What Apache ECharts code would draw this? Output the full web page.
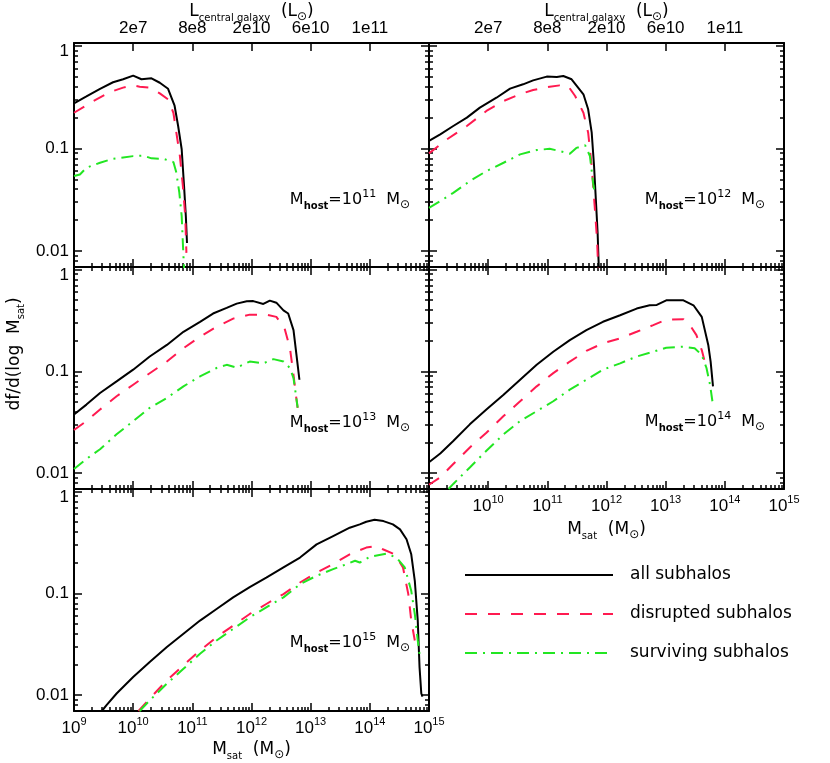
<!DOCTYPE html>
<html><head><meta charset="utf-8">
<script src="https://cdn.jsdelivr.net/npm/echarts@6/dist/echarts.min.js"></script>
<style>html,body{margin:0;padding:0;background:#fff}#c{width:830px;height:763px}</style>
</head><body><div id="c"></div><script>
// ---------- data (x = log10 M_sat [M_sun], y = df/d(log M_sat)) ----------
const hostExponents = [11, 12, 13, 14, 15];
const seriesNames = ['all subhalos', 'disrupted subhalos', 'surviving subhalos'];
const xRange = [9, 15];
const yRange = [0.007, 1.06];
const xMajorTicks = [9, 10, 11, 12, 13, 14, 15];
const topTickPos = [10, 11, 12, 13, 14];
const topTickLabels = ['2e7', '8e8', '2e10', '6e10', '1e11'];
const yMajorTicks = [0.01, 0.1, 1];
const yTickLabels = ['0.01', '0.1', '1'];

const h11_all = [[9.0,0.274],[9.21,0.32],[9.44,0.38],[9.66,0.44],[9.83,0.47],[10.0,0.51],[10.14,0.47],[10.31,0.48],[10.45,0.435],[10.59,0.38],[10.7,0.26],[10.76,0.165],[10.82,0.098],[10.86,0.043],[10.89,0.022],[10.91,0.012]];
const h11_dis = [[9.0,0.222],[9.33,0.289],[9.61,0.353],[9.83,0.39],[10.0,0.41],[10.11,0.398],[10.28,0.39],[10.45,0.343],[10.59,0.30],[10.68,0.222],[10.73,0.142],[10.79,0.084],[10.84,0.043],[10.88,0.022],[10.90,0.0096]];
const h11_sur = [[9.0,0.0537],[9.1,0.0557],[9.21,0.0647],[9.44,0.0725],[9.66,0.0792],[10.0,0.084],[10.17,0.085],[10.31,0.0799],[10.51,0.079],[10.68,0.0735],[10.73,0.058],[10.78,0.037],[10.82,0.022],[10.85,0.0089],[10.86,0.0068]];

const h12_all = [[9.0,0.118],[9.19,0.137],[9.41,0.165],[9.64,0.199],[9.86,0.249],[10.14,0.311],[10.37,0.381],[10.59,0.42],[10.76,0.459],[10.99,0.499],[11.16,0.495],[11.27,0.506],[11.41,0.47],[11.61,0.336],[11.69,0.24],[11.75,0.142],[11.79,0.067],[11.82,0.0318],[11.85,0.015],[11.87,0.0068]];
const h12_dis = [[9.0,0.0893],[9.30,0.122],[9.64,0.165],[9.97,0.231],[10.26,0.289],[10.54,0.336],[10.76,0.37],[11.04,0.398],[11.21,0.41],[11.35,0.405],[11.47,0.323],[11.61,0.222],[11.69,0.142],[11.75,0.067],[11.80,0.0274],[11.84,0.013],[11.86,0.0068]];
const h12_sur = [[9.0,0.0264],[9.19,0.0306],[9.41,0.0369],[9.69,0.048],[9.97,0.06],[10.26,0.0724],[10.54,0.0873],[10.82,0.0962],[11.04,0.099],[11.21,0.094],[11.38,0.0886],[11.49,0.101],[11.64,0.107],[11.72,0.084],[11.78,0.043],[11.80,0.037]];

const h13_all = [[9.0,0.0378],[9.21,0.0472],[9.44,0.0614],[9.72,0.0798],[10.0,0.104],[10.28,0.14],[10.57,0.182],[10.85,0.245],[11.13,0.307],[11.35,0.37],[11.58,0.42],[11.75,0.463],[11.92,0.488],[12.03,0.49],[12.20,0.46],[12.31,0.496],[12.42,0.473],[12.54,0.398],[12.62,0.37],[12.71,0.254],[12.76,0.145],[12.81,0.0828]];
const h13_dis = [[9.0,0.0266],[9.21,0.0325],[9.44,0.0422],[9.72,0.057],[10.0,0.074],[10.28,0.096],[10.57,0.125],[10.85,0.169],[11.13,0.219],[11.41,0.274],[11.69,0.33],[11.97,0.361],[12.25,0.361],[12.42,0.343],[12.56,0.264],[12.65,0.169],[12.71,0.0926],[12.75,0.059],[12.78,0.0439]];
const h13_sur = [[9.0,0.011],[9.21,0.0138],[9.44,0.0172],[9.72,0.0241],[10.0,0.0325],[10.28,0.0439],[10.57,0.0549],[10.85,0.0713],[11.13,0.0893],[11.41,0.108],[11.58,0.116],[11.75,0.109],[11.97,0.125],[12.20,0.12],[12.37,0.132],[12.54,0.125],[12.65,0.108],[12.71,0.086],[12.75,0.059],[12.78,0.044]];

const h14_all = [[9.0,0.0128],[9.19,0.0156],[9.41,0.0207],[9.69,0.0302],[9.97,0.0422],[10.26,0.0591],[10.54,0.0828],[10.82,0.116],[11.10,0.156],[11.38,0.203],[11.66,0.254],[11.94,0.307],[12.23,0.356],[12.51,0.414],[12.73,0.446],[12.85,0.45],[13.01,0.499],[13.30,0.499],[13.47,0.446],[13.61,0.343],[13.72,0.182],[13.76,0.125],[13.80,0.0713]];
const h14_dis = [[9.0,0.0077],[9.19,0.0091],[9.41,0.0123],[9.69,0.0179],[9.97,0.025],[10.26,0.0364],[10.54,0.0509],[10.82,0.0713],[11.10,0.0962],[11.38,0.125],[11.66,0.159],[11.94,0.189],[12.23,0.211],[12.51,0.245],[12.79,0.285],[13.01,0.323],[13.30,0.326],[13.41,0.285],[13.52,0.227],[13.61,0.162],[13.66,0.125]];
const h14_sur = [[9.33,0.007],[9.41,0.00785],[9.69,0.0114],[9.97,0.0166],[10.26,0.0241],[10.54,0.0325],[10.82,0.0407],[11.10,0.0509],[11.38,0.0662],[11.66,0.0828],[11.94,0.104],[12.23,0.12],[12.51,0.14],[12.79,0.156],[13.01,0.171],[13.30,0.175],[13.49,0.169],[13.61,0.145],[13.69,0.108],[13.75,0.074],[13.79,0.0509]];

const h15_all = [[9.47,0.007],[9.55,0.008],[9.72,0.0104],[10.0,0.0151],[10.28,0.0212],[10.57,0.0297],[10.85,0.0401],[11.13,0.0541],[11.41,0.0703],[11.69,0.0914],[11.97,0.115],[12.25,0.143],[12.54,0.18],[12.82,0.225],[13.10,0.303],[13.38,0.366],[13.66,0.442],[13.83,0.476],[13.94,0.506],[14.08,0.529],[14.23,0.513],[14.39,0.476],[14.51,0.425],[14.62,0.34],[14.70,0.242],[14.76,0.133],[14.81,0.054],[14.84,0.0189],[14.87,0.0104],[14.89,0.0097]];
const h15_dis = [[10.09,0.007],[10.28,0.00927],[10.57,0.014],[10.85,0.0197],[11.13,0.0275],[11.41,0.0372],[11.69,0.0483],[11.97,0.0628],[12.25,0.0787],[12.54,0.0984],[12.82,0.128],[13.10,0.16],[13.38,0.194],[13.66,0.242],[13.94,0.282],[14.11,0.292],[14.23,0.27],[14.42,0.242],[14.56,0.18],[14.65,0.0984],[14.70,0.054],[14.76,0.0345]];
const h15_sur = [[10.11,0.007],[10.28,0.0089],[10.57,0.013],[10.85,0.0182],[11.13,0.0255],[11.41,0.0345],[11.69,0.0448],[11.97,0.0582],[12.25,0.073],[12.54,0.0914],[12.82,0.123],[13.10,0.149],[13.38,0.173],[13.61,0.194],[13.75,0.209],[13.83,0.201],[14.0,0.228],[14.28,0.246],[14.45,0.225],[14.59,0.18],[14.70,0.106],[14.76,0.0628],[14.81,0.0345],[14.84,0.0255]];

// ---------- layout / style ----------
const panels = [
  {left: 74,  top: 43,  h: 224, data: [h11_all, h11_dis, h11_sur], yLab: true,  xLab: null, topLab: true},
  {left: 429, top: 43,  h: 224, data: [h12_all, h12_dis, h12_sur], yLab: false, xLab: null, topLab: true},
  {left: 74,  top: 267, h: 222, data: [h13_all, h13_dis, h13_sur], yLab: true,  xLab: null, topLab: false},
  {left: 429, top: 267, h: 222, data: [h14_all, h14_dis, h14_sur], yLab: false, xLab: [10,11,12,13,14,15], topLab: false},
  {left: 74,  top: 489, h: 222, data: [h15_all, h15_dis, h15_sur], yLab: true,  xLab: [9,10,11,12,13,14,15], topLab: false}
];
const PW = 355;
const colors = ['#000000', '#ff1a50', '#22e622'];
const dashes = ['solid', [12, 11], [12, 6, 2, 6]];
const FN = 'Liberation Sans';
const FW = 'DejaVu Sans';
const BLACK = '#000';

const lg = v => Math.log10(v);
const yMin = lg(yRange[0]), yMax = lg(yRange[1]);
const xMinor = [];
for (let d = xRange[0]; d < xRange[1]; d++) for (let k = 2; k <= 9; k++) xMinor.push(d + lg(k));
const yMinor = [];
for (let d = -3; d <= 0; d++) for (let k = 2; k <= 9; k++) {
  const v = lg(k * Math.pow(10, d));
  if (v >= yMin - 1e-9 && v <= yMax + 1e-9) yMinor.push(v);
}
const yMajorLog = yMajorTicks.map(lg);

const richNum = {
  b: {fontFamily: FN, fontSize: 17, lineHeight: 24, color: BLACK},
  s: {fontFamily: FN, fontSize: 11, lineHeight: 12, verticalAlign: 'top', color: BLACK}
};
const richY = {
  n: {fontFamily: FN, fontSize: 17, color: BLACK},
  t: {fontFamily: FN, fontSize: 17, color: BLACK, padding: [12, 0, 0, 0]}
};
const richTxt = {
  m: {fontFamily: FW, fontSize: 17, lineHeight: 22, color: BLACK},
  a: {fontFamily: FW, fontSize: 16, lineHeight: 22, color: BLACK},
  s: {fontFamily: FW, fontSize: 10, lineHeight: 10, verticalAlign: 'bottom', color: BLACK},
  hb: {fontFamily: FW, fontSize: 10, lineHeight: 10, fontWeight: 'bold', verticalAlign: 'bottom', color: BLACK},
  e: {fontFamily: FW, fontSize: 11, lineHeight: 11, verticalAlign: 'top', color: BLACK},
  o: {fontFamily: FW, fontSize: 12, lineHeight: 12, verticalAlign: 'bottom', color: BLACK}
};

const tickMajor = {show: true, inside: true, length: 8, lineStyle: {color: BLACK, width: 1.5}};
const tickMinor = {show: true, inside: true, length: 4, lineStyle: {color: BLACK, width: 1.5}};
const lineOn = {show: true, onZero: false, lineStyle: {color: BLACK, width: 2}};
const lineOff = {show: false, onZero: false};

const grids = [], xAxes = [], yAxes = [], series = [];
panels.forEach((p, i) => {
  grids.push({left: p.left, top: p.top, width: PW, height: p.h, containLabel: false, outerBoundsMode: 'none'});
  const xb = {gridIndex: i, type: 'value', min: xRange[0], max: xRange[1], splitLine: {show: false}, axisLabel: {show: false}, axisLine: lineOff, axisTick: {show: false}};
  xAxes.push(Object.assign({}, xb, {position: 'bottom', axisLine: lineOn,
    axisTick: Object.assign({customValues: xMajorTicks}, tickMajor),
    axisLabel: p.xLab ? {show: true, customValues: p.xLab, margin: 5, rich: richNum,
      formatter: v => '{b|10}{s|' + Math.round(v) + '}'} : {show: false}}));
  xAxes.push(Object.assign({}, xb, {position: 'bottom', axisTick: Object.assign({customValues: xMinor}, tickMinor)}));
  xAxes.push(Object.assign({}, xb, {position: 'top', axisLine: lineOn,
    axisTick: Object.assign({customValues: p.topLab ? topTickPos : xMajorTicks}, tickMajor),
    axisLabel: p.topLab ? {show: true, customValues: topTickPos, margin: 6, color: BLACK, fontFamily: FN, fontSize: 17,
      formatter: v => topTickLabels[topTickPos.findIndex(t => Math.abs(t - v) < 1e-6)]} : {show: false}}));
  xAxes.push(Object.assign({}, xb, {position: 'top', axisTick: p.topLab ? {show: false} : Object.assign({customValues: xMinor}, tickMinor)}));

  const yb = {gridIndex: i, type: 'value', min: yMin, max: yMax, splitLine: {show: false}, axisLabel: {show: false}, axisLine: lineOff, axisTick: {show: false}};
  yAxes.push(Object.assign({}, yb, {position: 'left', axisLine: lineOn,
    axisTick: Object.assign({customValues: yMajorLog}, tickMajor),
    axisLabel: p.yLab ? {show: true, customValues: yMajorLog, margin: 5, rich: richY,
      formatter: v => {
        const j = yMajorLog.findIndex(t => Math.abs(t - v) < 1e-6);
        return (j === yMajorLog.length - 1 ? '{t|' : '{n|') + yTickLabels[j] + '}';
      }} : {show: false}}));
  yAxes.push(Object.assign({}, yb, {position: 'left', axisTick: Object.assign({customValues: yMinor}, tickMinor)}));
  yAxes.push(Object.assign({}, yb, {position: 'right', axisLine: lineOn, axisTick: Object.assign({customValues: yMajorLog}, tickMajor)}));
  yAxes.push(Object.assign({}, yb, {position: 'right', axisTick: Object.assign({customValues: yMinor}, tickMinor)}));

  p.data.forEach((d, k) => {
    series.push({
      type: 'line', name: seriesNames[k], xAxisIndex: 4 * i, yAxisIndex: 4 * i,
      data: d.map(([x, y]) => [x, lg(y)]),
      symbol: 'none', showSymbol: false, clip: true, smooth: false,
      lineStyle: {color: colors[k], width: 2, type: dashes[k]},
      itemStyle: {color: colors[k]},
      emphasis: {disabled: true}
    });
  });
});

const hostText = e => '{a|M}{hb|host}{a|=10}{e|' + e + '}{a|  M}{o|⊙}';
const annPos = [[350, 200], [705, 200], [350, 423], [705, 422], [350, 643]];
const graphics = [];
hostExponents.forEach((e, i) => graphics.push({type: 'text', x: annPos[i][0], y: annPos[i][1], z: 10,
  style: {text: hostText(e), rich: richTxt, align: 'center', verticalAlign: 'middle'}}));
const lTitle = '{m|L}{s|central galaxy}{m|  (L}{o|⊙}{m|)}';
const mTitle = '{m|M}{s|sat}{m|  (M}{o|⊙}{m|)}';
[[251.5, 12, lTitle], [606.5, 12, lTitle], [251.5, 750, mTitle], [606.5, 530, mTitle]].forEach(([x, y, t]) =>
  graphics.push({type: 'text', x, y, z: 10, style: {text: t, rich: richTxt, align: 'center', verticalAlign: 'middle'}}));
graphics.push({type: 'text', x: 15, y: 354, rotation: Math.PI / 2, z: 10,
  style: {text: '{m|df/d(log  M}{s|sat}{m|)}', rich: richTxt, align: 'center', verticalAlign: 'middle'}});

const chart = echarts.init(document.getElementById('c'), null, {renderer: 'canvas'});
chart.setOption({
  animation: false,
  backgroundColor: '#fff',
  grid: grids, xAxis: xAxes, yAxis: yAxes, series,
  legend: {
    data: seriesNames, orient: 'vertical', left: 464, top: 565, padding: 0,
    itemWidth: 148, itemHeight: 14, itemGap: 19, selectedMode: false,
    itemStyle: {opacity: 0, borderWidth: 0},
    lineStyle: {width: 2},
    textStyle: {fontFamily: FW, fontSize: 17, lineHeight: 20, color: BLACK, padding: [0, 0, 0, 12]}
  },
  graphic: graphics
});
</script></body></html>
